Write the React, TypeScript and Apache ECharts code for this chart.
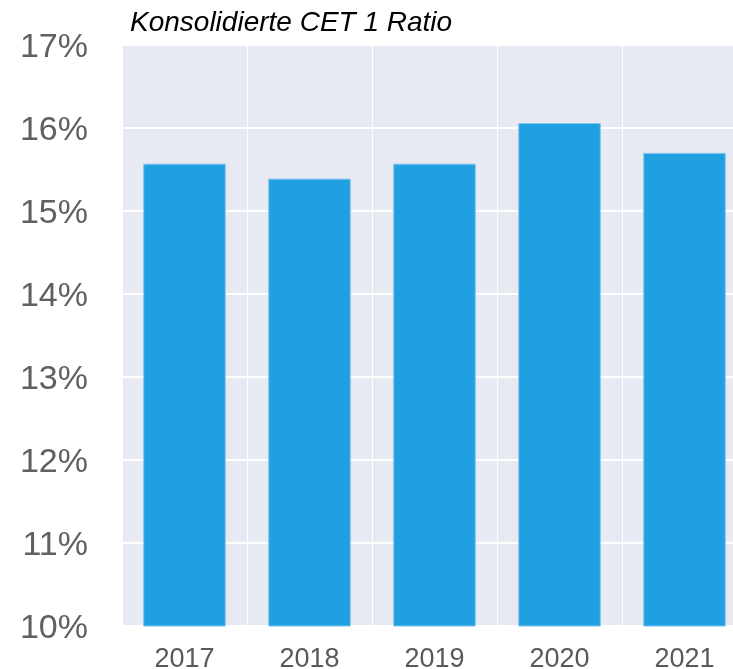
import React, { useEffect, useRef } from "react";
import * as echarts from "echarts";

const categories = ["2017", "2018", "2019", "2020", "2021"];
const cet1Ratio = [15.57, 15.39, 15.57, 16.06, 15.7];
const yMin = 10;
const yMax = 17;
const titleText = "Konsolidierte CET 1 Ratio";

export default function App() {
  const ref = useRef<HTMLDivElement>(null);
  useEffect(() => {
    if (!ref.current) return;
    const chart = echarts.init(ref.current, null, { renderer: "svg" });
    const font = "'Liberation Sans', Arial, sans-serif";
    chart.setOption({
      animation: false,
      title: {
        text: titleText,
        left: 125,
        top: 2,
        textStyle: {
          fontFamily: font,
          fontStyle: "italic",
          fontWeight: "normal",
          fontSize: 28,
          color: "#000000",
        },
      },
      grid: {
        left: 122,
        top: 45,
        width: 625,
        height: 581,
        show: true,
        backgroundColor: "#E7EAF2",
        borderWidth: 0,
        outerBoundsMode: "none",
        containLabel: false,
      },
      xAxis: {
        type: "category",
        data: categories,
        boundaryGap: true,
        axisLine: { show: false },
        axisTick: { show: false },
        axisLabel: {
          fontFamily: font,
          fontSize: 27,
          color: "#595959",
          margin: 18,
        },
        splitLine: {
          show: true,
          lineStyle: { color: "#FFFFFF", width: 1 },
        },
      },
      yAxis: {
        type: "value",
        min: yMin,
        max: yMax,
        interval: 1,
        axisLine: { show: false },
        axisTick: { show: false },
        axisLabel: {
          formatter: "{value}%",
          fontFamily: font,
          fontSize: 34,
          color: "#606060",
          margin: 34,
        },
        splitLine: {
          show: true,
          lineStyle: { color: "#FFFFFF", width: 2 },
        },
      },
      series: [
        {
          type: "bar",
          data: cet1Ratio,
          barWidth: "66%",
          itemStyle: {
            color: "#209FE1",
            borderColor: "#7DC4EE",
            borderWidth: 1,
          },
        },
      ],
    });
    return () => chart.dispose();
  }, []);
  return (
    <div
      ref={ref}
      style={{ position: "fixed", left: 0, top: 0, width: 733, height: 669 }}
    />
  );
}
